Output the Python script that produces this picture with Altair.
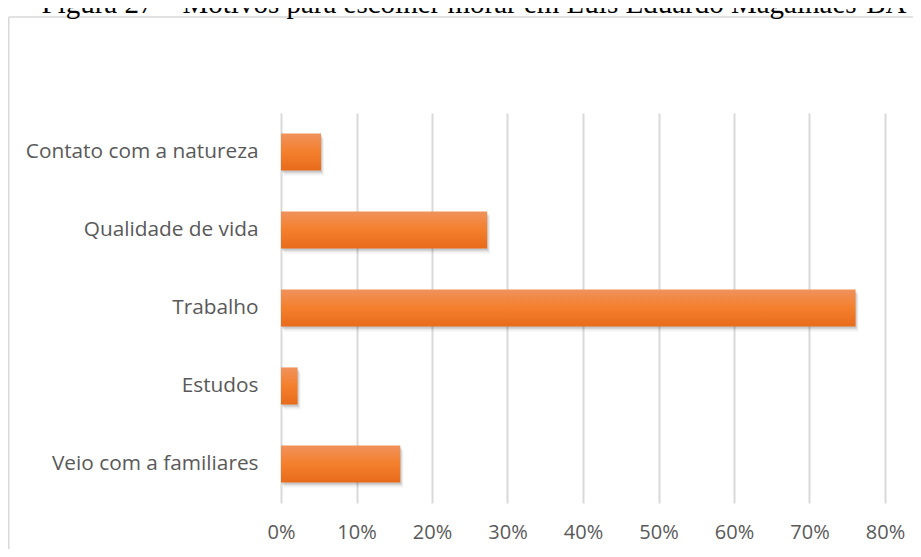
import altair as alt
import pandas as pd

categories = ["Contato com a natureza", "Qualidade de vida", "Trabalho", "Estudos", "Veio com a familiares"]
values = [0.053, 0.273, 0.761, 0.022, 0.158]
tick_values = [0, 0.1, 0.2, 0.3, 0.4, 0.5, 0.6, 0.7, 0.8]
title_text = "Figura 27 – Motivos para escolher morar em Luís Eduardo Magalhães-BA"

df = pd.DataFrame({"cat": categories, "val": values})

FONT = "Open Sans"
GREY = "#595959"

x_enc = alt.X("val:Q", scale=alt.Scale(domain=[0, 0.8], nice=False),
              axis=alt.Axis(values=tick_values, format=".0%", title=None, domain=False,
                            ticks=False, tickSize=0, labelPadding=29, labelBaseline="middle",
                            labelFlush=False,
                            labelFontSize=20, labelColor=GREY, labelFont=FONT,
                            grid=True, gridColor="#d9d9d9", gridWidth=2))
y_enc = alt.Y("cat:N", sort=categories,
              scale=alt.Scale(paddingInner=0.524, paddingOuter=0.262),
              axis=alt.Axis(title=None, domain=False, ticks=False, tickSize=0, labelPadding=23,
                            labelLimit=0,
                            labelFontSize=20.8, labelColor=GREY, labelFont=FONT))

base = alt.Chart(df)

shadows = [
    base.mark_bar(color="#000000", opacity=op, xOffset=dx, yOffset=dy).encode(x=x_enc, y=y_enc)
    for dx, dy, op in [(1, 2, 0.10), (2, 3, 0.07), (3, 5, 0.05)]
]

grad = alt.Gradient(
    gradient="linear",
    stops=[alt.GradientStop(color="#F0925C", offset=0),
           alt.GradientStop(color="#F47F2C", offset=0.5),
           alt.GradientStop(color="#E76B1B", offset=1)],
    x1=0, x2=0, y1=0, y2=1,
)
bars = base.mark_bar(color=grad).encode(x=x_enc, y=y_enc)

one = alt.Data(values=[{"a": 1}])
title_mark = alt.Chart(one).mark_text(font="Liberation Serif", fontSize=29, color="#000000",
                                      align="center", baseline="alphabetic").encode(
    x=alt.value(193), y=alt.value(-100), text=alt.value(title_text))
border_top = alt.Chart(one).mark_rule(color="#d9d9d9", strokeWidth=1.5).encode(
    x=alt.value(-272.25), x2=alt.value(632), y=alt.value(-96))
border_left = alt.Chart(one).mark_rule(color="#d9d9d9", strokeWidth=1.5).encode(
    x=alt.value(-272.25), y=alt.value(-96), y2=alt.value(436))

chart = alt.layer(border_top, border_left, title_mark, *shadows, bars).properties(
    width=604, height=390,
    autosize=alt.AutoSizeParams(type="none"),
    padding={"left": 273, "top": 105, "right": 28, "bottom": 46},
    background="white",
).configure_view(stroke=None)

chart.save("out.html", embed_options={"renderer": "svg", "actions": False})
